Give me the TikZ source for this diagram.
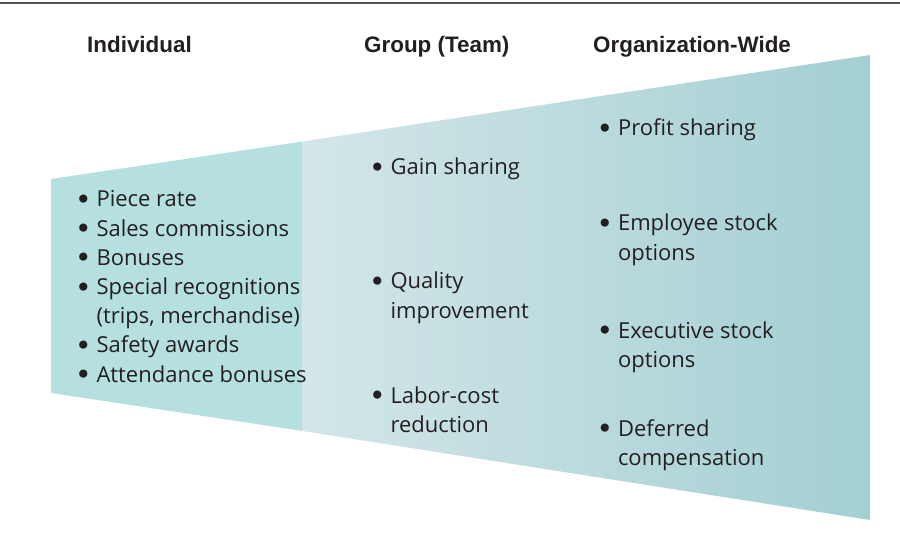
\documentclass[tikz,border=0pt]{standalone}
\usepackage{fontspec}
\setmainfont{Open Sans}
\newfontfamily\headfont{Liberation Sans}
\newfontfamily\bulfont{DejaVu Sans}
\usetikzlibrary{positioning}

\definecolor{indivteal}{HTML}{B6E0E0}
\definecolor{grouplight}{HTML}{D3E6E8}
\definecolor{orgdark}{HTML}{A3CFD3}
\definecolor{rulegray}{HTML}{555555}
\definecolor{inktext}{HTML}{231F20}

\newcommand{\blt}{\raisebox{-2.5pt}{\bulfont\fontsize{28}{29.2}\selectfont\textbullet}}

\begin{document}
\begin{tikzpicture}[x=1pt, y=-1pt,
  every node/.style={font=\fontsize{22}{29.2}\selectfont, text=inktext, inner sep=0pt},
  heading/.style={font=\headfont\bfseries\fontsize{22.4}{26}\selectfont, anchor=base west},
  item/.style={anchor=base west, align=left}]
  \useasboundingbox (0,0) rectangle (900,540);

  % Rule across the top
  \draw[rulegray, line width=1.6pt] (0,3) -- (900,3);

  % The widening band: solid left part, shaded right part
  \fill[indivteal] (51,179) -- (302.5,141.5) -- (302.5,431) -- (51,393) -- cycle;
  \shade[left color=grouplight, right color=orgdark]
    (302.5,141.5) -- (870,55) -- (870,520) -- (302.5,431) -- cycle;

  % Column headings
  \node[heading] (indivhead) at (87,52.5) {Individual};
  \node[heading] (grouphead) at (364,52.5) {Group (Team)};
  \node[heading] (orghead) at (593,52.5) {Organization-Wide};

  % Individual incentives
  \node[item] (indiv) at (74.8,207) {\begin{tabular}[t]{@{}l@{\hspace{5pt}}l@{}}
    \blt & Piece rate\\
    \blt & Sales commissions\\
    \blt & Bonuses\\
    \blt & Special recognitions\\
         & (trips, merchandise)\\
    \blt & Safety awards\\
    \blt & Attendance bonuses
  \end{tabular}};

  % Group incentives
  \node[item] (gain) at (368.8,175) {\begin{tabular}[t]{@{}l@{\hspace{5pt}}l@{}}
    \blt & Gain sharing\end{tabular}};
  \node[item] (quality) at (368.8,289) {\begin{tabular}[t]{@{}l@{\hspace{5pt}}l@{}}
    \blt & Quality\\ & improvement\end{tabular}};
  \node[item] (labor) at (368.8,403) {\begin{tabular}[t]{@{}l@{\hspace{5pt}}l@{}}
    \blt & Labor-cost\\ & reduction\end{tabular}};

  % Organization-wide incentives
  \node[item] (profit) at (596.3,136) {\begin{tabular}[t]{@{}l@{\hspace{5pt}}l@{}}
    \blt & Profit sharing\end{tabular}};
  \node[item] (employee) at (596.3,231) {\begin{tabular}[t]{@{}l@{\hspace{5pt}}l@{}}
    \blt & Employee stock\\ & options\end{tabular}};
  \node[item] (executive) at (596.3,338) {\begin{tabular}[t]{@{}l@{\hspace{5pt}}l@{}}
    \blt & Executive stock\\ & options\end{tabular}};
  \node[item] (deferred) at (596.3,436) {\begin{tabular}[t]{@{}l@{\hspace{5pt}}l@{}}
    \blt & Deferred\\ & compensation\end{tabular}};
\end{tikzpicture}
\end{document}
